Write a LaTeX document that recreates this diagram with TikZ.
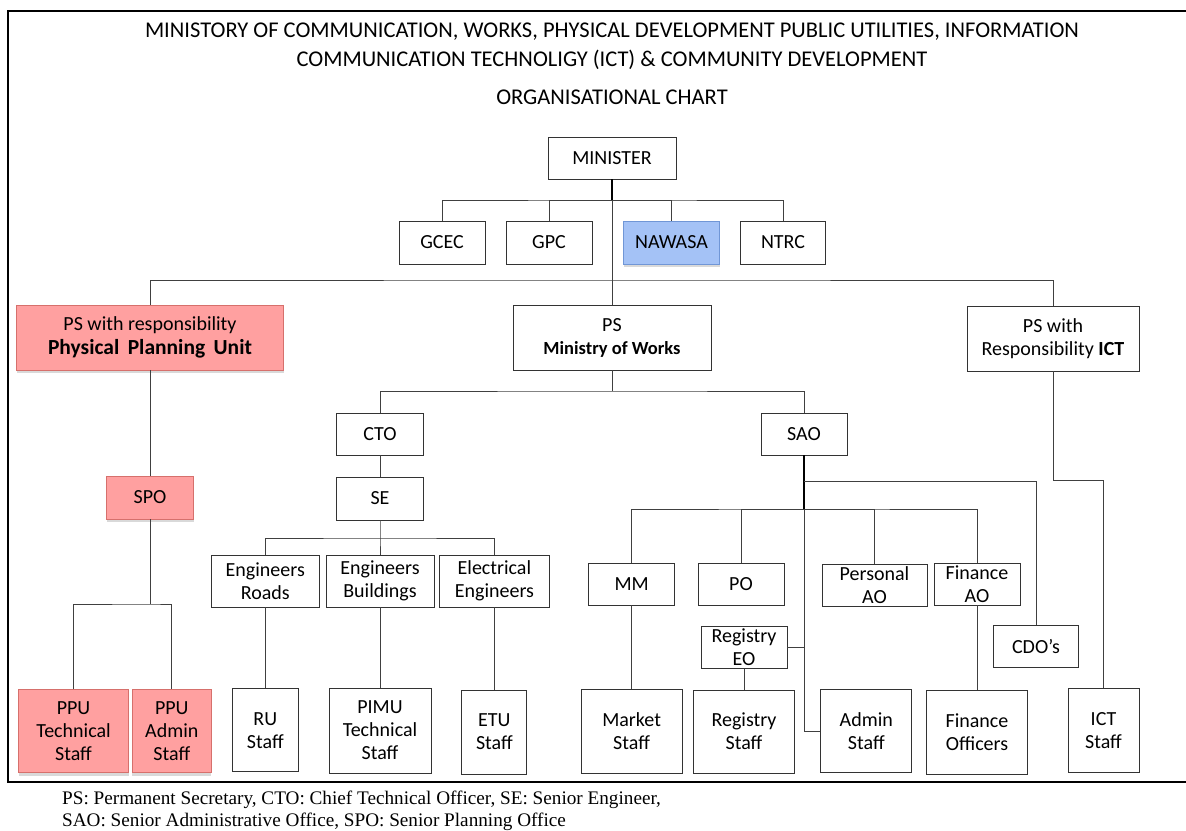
\documentclass[tikz,border=0pt]{standalone}
\usepackage{fontspec}
\setmainfont{Carlito}
\newfontfamily\notefont{Liberation Serif}
\usetikzlibrary{shadows}
\definecolor{ppupink}{RGB}{255,160,160}
\definecolor{ppuedge}{RGB}{214,112,108}
\definecolor{nawablue}{RGB}{164,194,246}
\definecolor{nawaedge}{RGB}{112,150,214}

\begin{document}
\begin{tikzpicture}[x=1pt,y=-1pt,
  box/.style={draw=black!80, line width=0.9pt, align=center, inner sep=0pt,
    font=\fontsize{20}{23}\selectfont},
  pinkbox/.style={box, fill=ppupink, draw=ppuedge,
    drop shadow={shadow xshift=0pt, shadow yshift=-3pt, opacity=.3}},
  bluebox/.style={box, fill=nawablue, draw=nawaedge,
    drop shadow={shadow xshift=0pt, shadow yshift=-3pt, opacity=.3}},
  link/.style={draw=black!75, line width=0.9pt},
  heavy/.style={draw=black, line width=1.8pt},
  titletext/.style={font=\fontsize{22.5}{26}\selectfont},
  notetext/.style={anchor=base west, inner sep=0pt, font=\notefont\fontsize{19.2}{22}\selectfont}]
\useasboundingbox (0,0) rectangle (1186,830);
\draw[line width=2.5pt] (1190,11) -- (8,11) -- (8,782) -- (1190,782); % frame
%% Heading
\node[titletext] (title1) at (612,32) {MINISTORY OF COMMUNICATION, WORKS, PHYSICAL DEVELOPMENT PUBLIC UTILITIES, INFORMATION};
\node[titletext] (title2) at (612,60) {COMMUNICATION TECHNOLIGY (ICT) \& COMMUNITY DEVELOPMENT};
\node[titletext] (title3) at (612,97) {ORGANISATIONAL CHART};
%% Top of the chart
\node[box, minimum width=128, minimum height=42] (min) at (612,158) {MINISTER};
\node[box, minimum width=86, minimum height=43] (gcec) at (442,242.5) {GCEC};
\node[box, minimum width=86, minimum height=43] (gpc) at (549,242.5) {GPC};
\node[bluebox, minimum width=96, minimum height=43] (nawasa) at (671.5,242.5) {NAWASA};
\node[box, minimum width=85, minimum height=43] (ntrc) at (783,242.5) {NTRC};
\node[pinkbox, minimum width=267, minimum height=65] (ppu) at (150,337.5) {PS with responsibility\\[1pt]{\fontsize{21.5}{23}\selectfont\bfseries Physical\,\ Planning\,\ Unit}};
\node[box, minimum width=198, minimum height=65] (psw) at (612,337.5) {PS\\{\fontsize{18.5}{23}\selectfont\bfseries Ministry of Works}};
\node[box, minimum width=172, minimum height=65] (ict) at (1053,338.5) {PS with\\Responsibility \textbf{ICT}};
%% Physical Planning Unit
\node[pinkbox, minimum width=87, minimum height=43] (spo) at (150,497.5) {SPO};
\node[pinkbox, minimum width=110, minimum height=83] (ppt) at (73.5,731.4) {PPU\\Technical\\Staff};
\node[pinkbox, minimum width=79, minimum height=83] (ppa) at (171.8,731.4) {PPU\\Admin\\Staff};
%% Works, technical side
\node[box, minimum width=87, minimum height=42] (cto) at (380,434) {CTO};
\node[box, minimum width=87, minimum height=43] (se) at (380,498.5) {SE};
\node[box, minimum width=108, minimum height=52] (engr) at (265.3,581) {Engineers\\Roads};
\node[box, minimum width=108, minimum height=52] (engb) at (380,581) {Engineers\\Buildings};
\node[box, minimum width=110, minimum height=52] (elec) at (494.4,581) {Electrical\\Engineers};
\node[box, minimum width=66, minimum height=83] (ru) at (265.3,730.4) {RU\\Staff};
\node[box, minimum width=102, minimum height=85] (pimu) at (380,730.5) {PIMU\\Technical\\Staff};
\node[box, minimum width=65, minimum height=84] (etu) at (494.4,732) {ETU\\Staff};
%% Works, admin side
\node[box, minimum width=86, minimum height=42] (sao) at (804,434) {SAO};
\node[box, minimum width=86, minimum height=42] (mm) at (631.6,584) {MM};
\node[box, minimum width=86, minimum height=42] (po) at (741,584) {PO};
\node[box, minimum width=105, minimum height=42] (pao) at (874.5,585) {Personal\\AO};
\node[box, minimum width=86, minimum height=42] (fao) at (977,584) {Finance\\AO};
\node[box, minimum width=86, minimum height=42] (reo) at (744,647.5) {Registry\\EO};
\node[box, minimum width=85, minimum height=42] (cdo) at (1036,646.5) {CDO's};
\node[box, minimum width=101, minimum height=84] (mkt) at (631.6,731) {Market\\Staff};
\node[box, minimum width=101, minimum height=83] (rgs) at (744,731.5) {Registry\\Staff};
\node[box, minimum width=91, minimum height=83] (adm) at (866.3,731.4) {Admin\\Staff};
\node[box, minimum width=101, minimum height=84] (fin) at (977,732) {Finance\\Officers};
\node[box, minimum width=71, minimum height=84] (icts) at (1103.5,730.7) {ICT\\Staff};
%% Junctions
\coordinate (j1) at (612,200); % boards
\coordinate (j2) at (612,280); % PS row
\coordinate (j3) at (150,604); % PPU staff
\coordinate (j4) at (612,391); % CTO / SAO
\coordinate (j5) at (380,538); % engineers
\coordinate (j6) at (804,509); % SAO units
\coordinate (j7) at (804,481); % CDO branch
\coordinate (j8) at (1053,480); % ICT branch
%% Connectors
\draw[link] (min) -- (psw); % Minister - PS
\draw[draw=black, line width=1.4pt] (min) -- (j1);
\draw[link] (gcec.north) |- (j1) -| (ntrc.north);
\draw[link] (gpc.north) |- (j1);
\draw[link] (nawasa.north) |- (j1);
\draw[link] (ppu.north) |- (j2) -| (ict.north);
\draw[link] (ppu) -- (spo);
\draw[link] (spo) -- (j3);
\draw[link] (ppt.north) |- (j3) -| (ppa.north);
\draw[link] (psw) -- (j4);
\draw[link] (cto.north) |- (j4) -| (sao.north);
\draw[link] (cto) -- (se);
\draw[link] (se) -- (j5) -- (engb);
\draw[link] (engr.north) |- (j5) -| (elec.north);
\draw[link] (engr) -- (ru);
\draw[link] (engb) -- (pimu);
\draw[link] (elec) -- (etu);
\draw[heavy] (sao) -- (j6);
\draw[link] (j7) -| (cdo.north);
\draw[link] (mm.north) |- (j6) -| (fao.north);
\draw[link] (po.north) |- (j6);
\draw[link] (pao.north) |- (j6);
\draw[link] (j6) |- (adm.west);
\draw[link] (reo.east) -- (reo.east -| j6);
\draw[link] (reo) -- (rgs);
\draw[link] (mm) -- (mkt);
\draw[link] (fao) -- (fin);
\draw[link] (ict) -- (j8) -| (icts.north);
%% Key
\node[notetext] (note1) at (62,804) {PS: Permanent Secretary, CTO: Chief Technical Officer, SE: Senior Engineer,};
\node[notetext] (note2) at (62,826) {SAO: Senior Administrative Office, SPO: Senior Planning Office};
\end{tikzpicture}
\end{document}
